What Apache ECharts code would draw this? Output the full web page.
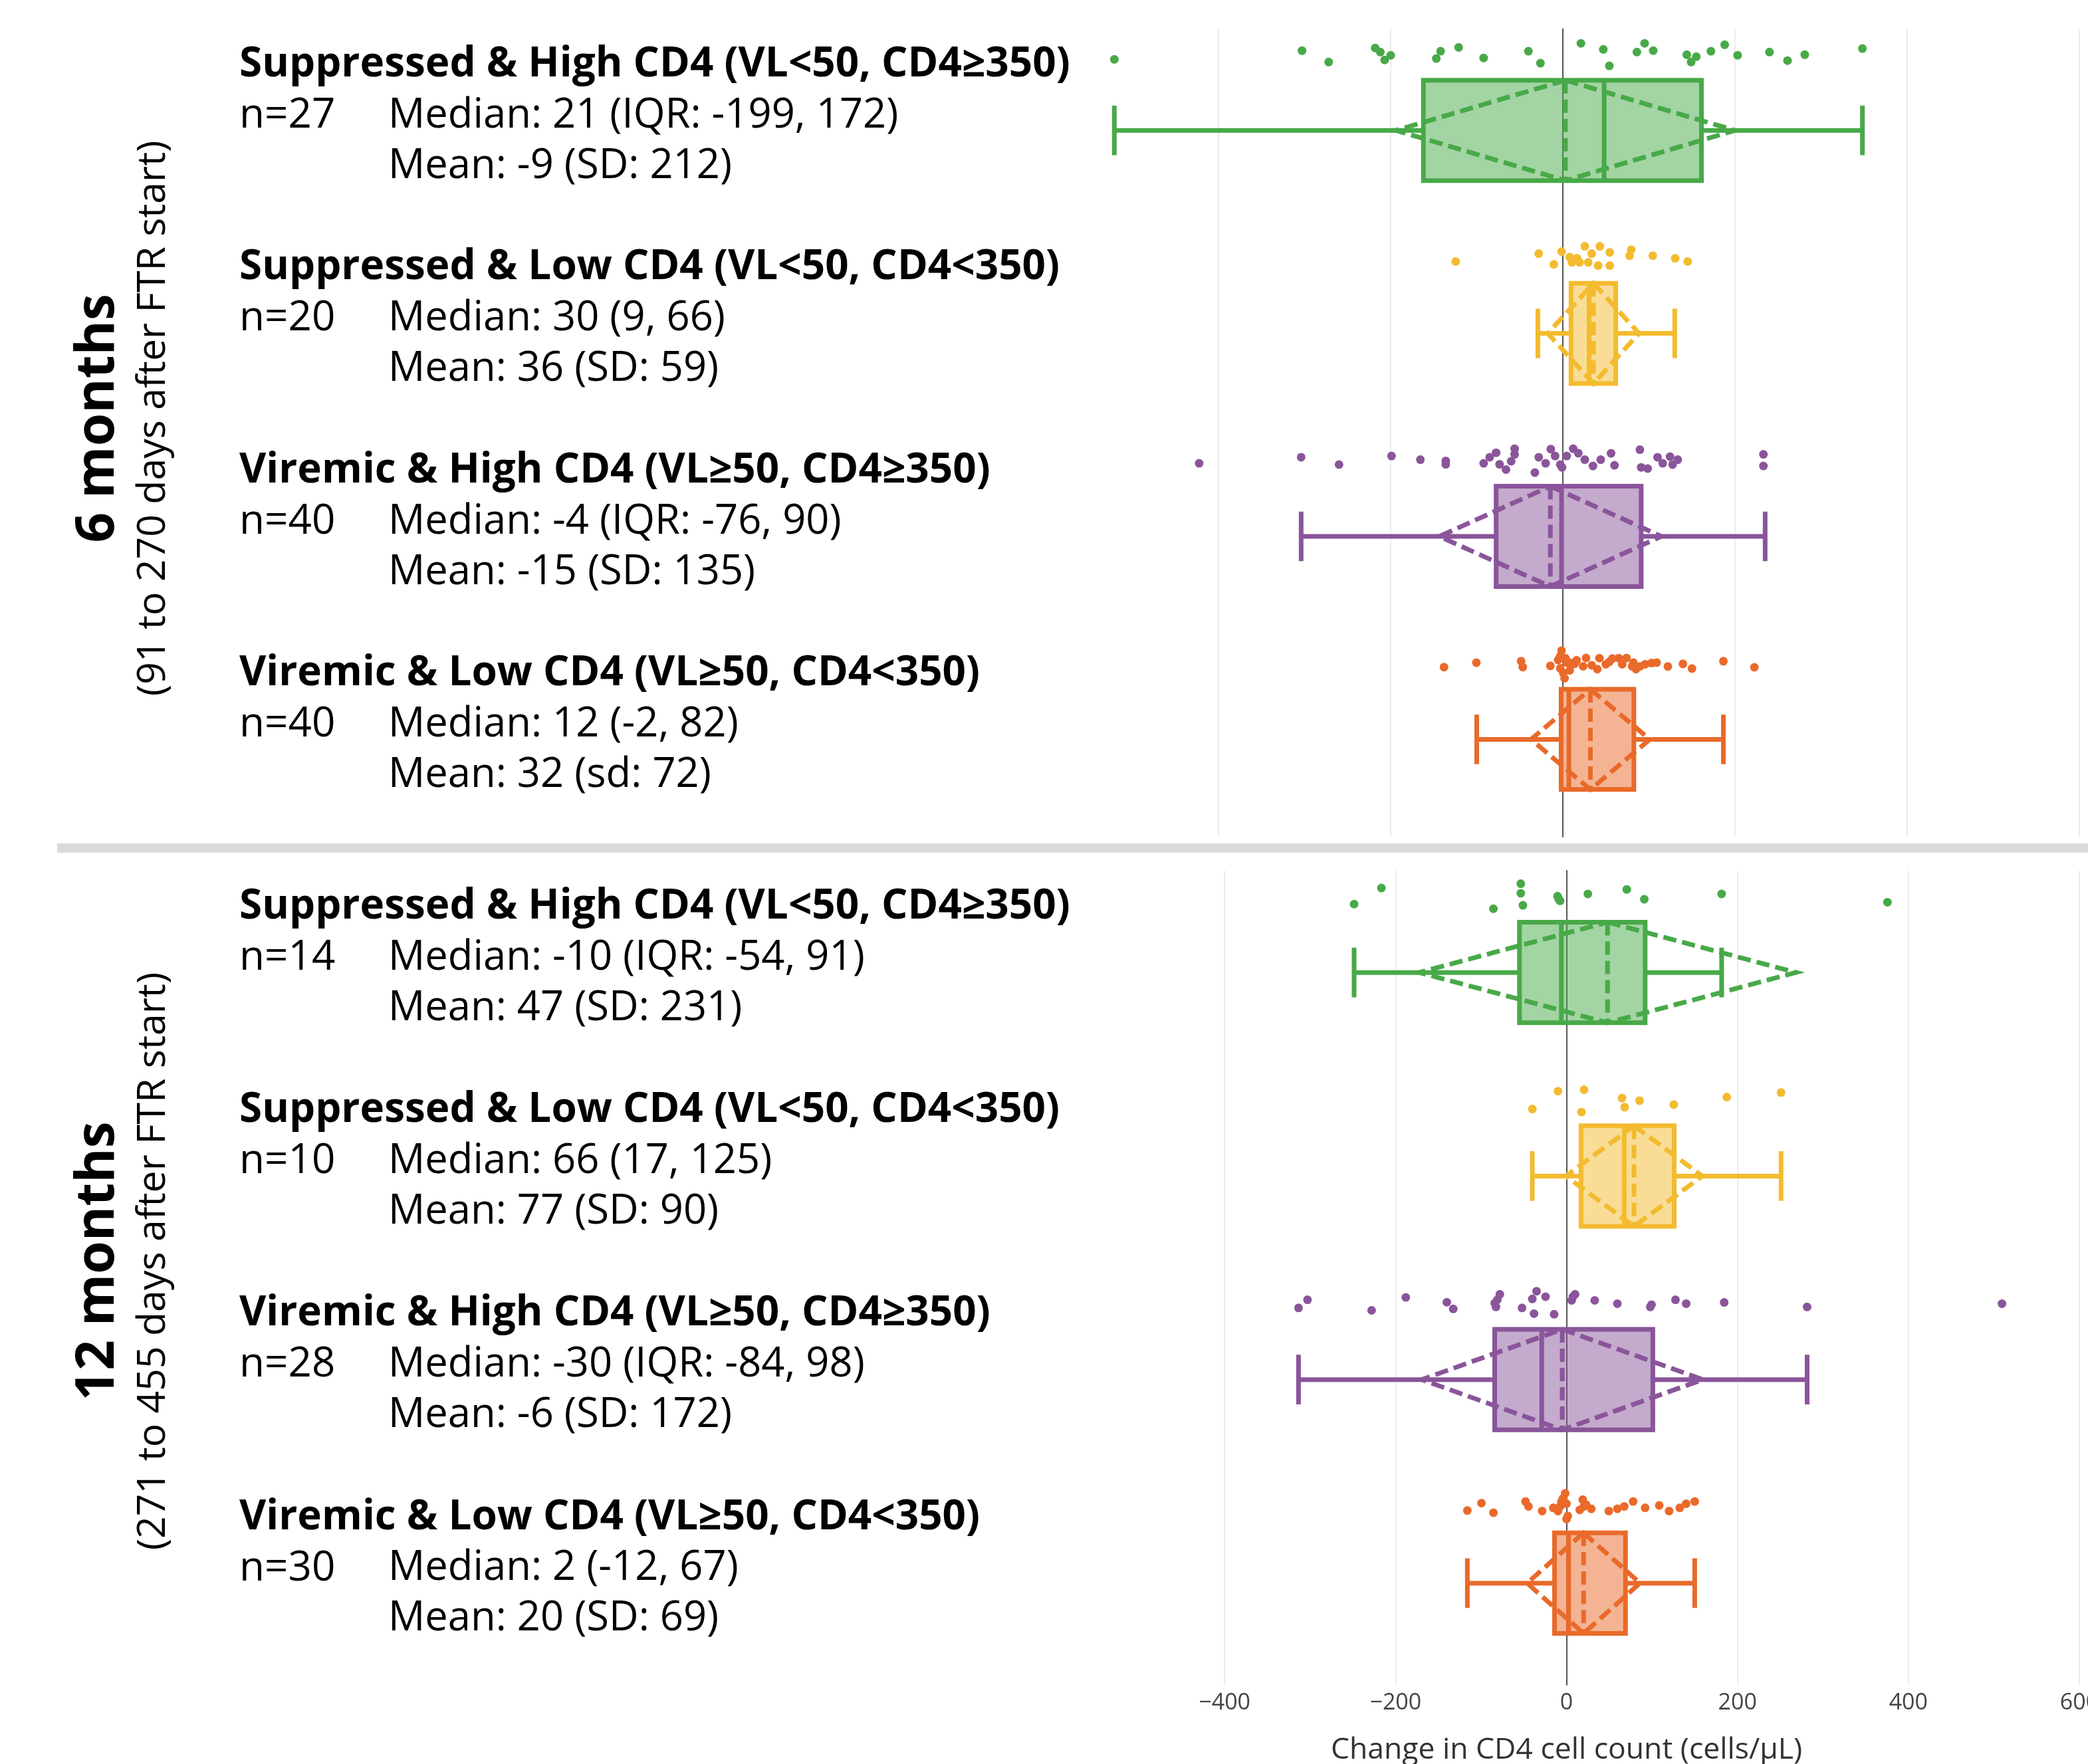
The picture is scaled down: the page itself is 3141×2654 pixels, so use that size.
<!DOCTYPE html>
<html><head><meta charset="utf-8">
<script src="https://cdn.jsdelivr.net/npm/echarts@6/dist/echarts.min.js"></script>
<style>html,body{margin:0;padding:0;background:#fff}#c{width:3141px;height:2654px}</style>
</head><body><div id="c"></div>
<script>
// ---------- text data ----------
const groupNames = [
  'Suppressed & High CD4 (VL<50, CD4\u2265350)',
  'Suppressed & Low CD4 (VL<50, CD4<350)',
  'Viremic & High CD4 (VL\u226550, CD4\u2265350)',
  'Viremic & Low CD4 (VL\u226550, CD4<350)'
];
const nLabels6 = ['n=27', 'n=20', 'n=40', 'n=40'];
const medianText6 = ['Median: 21 (IQR: -199, 172)', 'Median: 30 (9, 66)', 'Median: -4 (IQR: -76, 90)', 'Median: 12 (-2, 82)'];
const meanText6 = ['Mean: -9 (SD: 212)', 'Mean: 36 (SD: 59)', 'Mean: -15 (SD: 135)', 'Mean: 32 (sd: 72)'];
const nLabels12 = ['n=14', 'n=10', 'n=28', 'n=30'];
const medianText12 = ['Median: -10 (IQR: -54, 91)', 'Median: 66 (17, 125)', 'Median: -30 (IQR: -84, 98)', 'Median: 2 (-12, 67)'];
const meanText12 = ['Mean: 47 (SD: 231)', 'Mean: 77 (SD: 90)', 'Mean: -6 (SD: 172)', 'Mean: 20 (SD: 69)'];
const panelTitles = ['6 months', '12 months'];
const panelSubtitles = ['(91 to 270 days after FTR start)', '(271 to 455 days after FTR start)'];
const xAxisName = 'Change in CD4 cell count (cells/\u03bcL)';
const xMin = -600, xMax = 600, xStep = 200;

// ---------- box statistics as drawn: [min, q1, median, q3, max, mean, sd] ----------
const box6 = [
  [-521, -162, 48, 161, 348, 3, 197],
  [-29, 9.5, 30.5, 61.5, 130, 35.5, 53],
  [-304, -77.5, -1.5, 91, 235, -14.5, 129],
  [-100, -2, 7, 82.5, 186.5, 32, 69]
];
const box12 = [
  [-248.5, -55, -6, 92, 181.5, 48, 220.5],
  [-40, 17, 67.5, 126, 251, 79, 80],
  [-313.5, -84, -29, 101, 281.5, -5, 164.5],
  [-116, -14, 2.5, 69, 150, 20, 66]
];

// ---------- individual points (value, vertical jitter in category units) ----------
const pts6_0 = [-521,-303,-272,-218,-212,-207,-200,-147,-142,-121,-92,-40,-26,21,47,54,86,95,105,144,149,155,172,188,203,240,261,281,348];
const jit6_0 = [-0.350,-0.393,-0.337,-0.406,-0.386,-0.347,-0.370,-0.354,-0.390,-0.409,-0.357,-0.390,-0.331,-0.429,-0.399,-0.318,-0.386,-0.429,-0.393,-0.373,-0.337,-0.363,-0.390,-0.422,-0.370,-0.386,-0.344,-0.373,-0.403];
const pts6_1 = [-124.5,-28,-10.5,-1.5,8,10.5,16.5,19.5,25.5,29.5,33.5,41,43,54.5,54.5,77.5,79.5,104.5,130.5,145];
const jit6_1 = [-0.354,-0.393,-0.340,-0.403,-0.376,-0.350,-0.370,-0.350,-0.429,-0.350,-0.393,-0.334,-0.429,-0.399,-0.334,-0.383,-0.412,-0.383,-0.370,-0.354];
const pts6_2 = [-422.5,-304,-260,-199,-165.5,-136,-136,-92,-85,-77.5,-73.5,-66,-56,-56,-32.5,-28,-14,-9,-3,-1,4.5,12,25.5,35,44,56,89.5,91,98.5,116,124.5,127.5,133.5,233,233,-60,-20,18,60,110];
const jit6_2 = [-0.360,-0.390,-0.354,-0.396,-0.378,-0.372,-0.355,-0.360,-0.390,-0.412,-0.355,-0.329,-0.432,-0.404,-0.314,-0.390,-0.430,-0.396,-0.354,-0.340,-0.396,-0.432,-0.378,-0.347,-0.378,-0.409,-0.427,-0.340,-0.334,-0.360,-0.393,-0.354,-0.378,-0.404,-0.347,-0.37,-0.36,-0.41,-0.35,-0.39];
const pts6_3 = [-138,-100.5,-48.5,-46.5,-14.5,-5.5,-1.5,0.5,2,4.5,8,13.5,27,33.5,40,54,57.5,74,82,85,89.5,103,109,122,139.5,150,186.5,222.5,-3,3,16,23.5,50,65,80.5,95.5,-3,8,42.5,69];
const jit6_3 = [-0.356,-0.378,-0.385,-0.356,-0.362,-0.391,-0.437,-0.327,-0.301,-0.378,-0.378,-0.372,-0.401,-0.365,-0.346,-0.382,-0.398,-0.401,-0.378,-0.346,-0.359,-0.376,-0.378,-0.359,-0.372,-0.349,-0.385,-0.355,-0.35,-0.40,-0.39,-0.36,-0.37,-0.40,-0.36,-0.37,-0.41,-0.34,-0.40,-0.37];
const pts12_0 = [-248.5,-216.5,-85.5,-53.5,-53.5,-51,-10.5,-7.5,25,70.5,91,181.5,375.5,-9];
const jit12_0 = [-0.336,-0.415,-0.313,-0.436,-0.389,-0.330,-0.375,-0.352,-0.386,-0.408,-0.360,-0.386,-0.345,-0.36];
const pts12_1 = [-40,-10,17.5,20.5,65,68,85.5,125.5,187.5,251];
const jit12_1 = [-0.329,-0.417,-0.314,-0.424,-0.383,-0.338,-0.370,-0.351,-0.388,-0.410];
const pts12_2 = [-313.5,-303,-228,-188,-140,-132.5,-84,-82.5,-78,-52,-40,-38,-35,-24.5,-14.5,6,10,33,59.5,98,99.5,127.5,140,184.5,281.5,509.5,-81,7.5];
const jit12_2 = [-0.352,-0.392,-0.340,-0.404,-0.380,-0.347,-0.376,-0.357,-0.419,-0.352,-0.396,-0.324,-0.434,-0.407,-0.321,-0.389,-0.419,-0.389,-0.373,-0.357,-0.368,-0.392,-0.373,-0.379,-0.357,-0.373,-0.392,-0.407];
const pts12_3 = [-116,-99.5,-85.5,-48,-44.5,-28.5,-15.5,-10,-6,-4,-1.5,0,1.5,19,20.5,29,49.5,59.5,67.5,78,92,108.5,120,132.5,140,150,-7.5,0,23,15.5];
const jit12_3 = [-0.357,-0.393,-0.346,-0.401,-0.377,-0.354,-0.370,-0.354,-0.401,-0.417,-0.441,-0.315,-0.330,-0.410,-0.377,-0.365,-0.354,-0.365,-0.377,-0.401,-0.370,-0.382,-0.354,-0.370,-0.390,-0.401,-0.377,-0.39,-0.385,-0.36];

const colors = ['#48a948', '#f3bb2f', '#8a559a', '#e96a2a'];
const FONT = '"Open Sans", "Noto Sans", sans-serif';

const pts = [[pts6_0, pts6_1, pts6_2, pts6_3], [pts12_0, pts12_1, pts12_2, pts12_3]];
const jits = [[jit6_0, jit6_1, jit6_2, jit6_3], [jit12_0, jit12_1, jit12_2, jit12_3]];
const boxes = [box6, box12];

function hexA(hex, a) {
  const n = parseInt(hex.slice(1), 16);
  return 'rgba(' + (n >> 16) + ',' + ((n >> 8) & 255) + ',' + (n & 255) + ',' + a + ')';
}

function renderBox(params, api) {
  const i = api.value(0);
  const mn = api.value(1), q1 = api.value(2), md = api.value(3), q3 = api.value(4),
        mx = api.value(5), mean = api.value(6), sd = api.value(7);
  const c = colors[i];
  const yc = api.coord([0, i])[1];
  const band = Math.abs(api.size([0, 1])[1]);
  const hb = 0.247 * band, hc = 0.122 * band;
  const X = v => api.coord([v, i])[0];
  const lw = 7;
  const solid = { stroke: c, lineWidth: lw, fill: null };
  const dashed = { stroke: c, lineWidth: lw, fill: null, lineDash: [20, 9] };
  return {
    type: 'group',
    children: [
      { type: 'rect', shape: { x: X(q1), y: yc - hb, width: X(q3) - X(q1), height: 2 * hb },
        style: { fill: hexA(c, 0.5), stroke: c, lineWidth: lw } },
      { type: 'line', shape: { x1: X(md), y1: yc - hb, x2: X(md), y2: yc + hb }, style: solid },
      { type: 'line', shape: { x1: X(mn), y1: yc, x2: X(q1), y2: yc }, style: solid },
      { type: 'line', shape: { x1: X(q3), y1: yc, x2: X(mx), y2: yc }, style: solid },
      { type: 'line', shape: { x1: X(mn), y1: yc - hc, x2: X(mn), y2: yc + hc }, style: solid },
      { type: 'line', shape: { x1: X(mx), y1: yc - hc, x2: X(mx), y2: yc + hc }, style: solid },
      { type: 'polygon', shape: { points: [[X(mean), yc - hb], [X(mean + sd), yc], [X(mean), yc + hb], [X(mean - sd), yc]] }, style: dashed },
      { type: 'line', shape: { x1: X(mean), y1: yc - hb, x2: X(mean), y2: yc + hb }, style: dashed }
    ]
  };
}

const grids = [
  { left: 1574, width: 1554, top: 43.5, height: 1215.5, outerBoundsMode: 'none', containLabel: false },
  { left: 1585, width: 1543, top: 1310, height: 1225, outerBoundsMode: 'none', containLabel: false }
];
const yRanges = [[-0.5, 3.48], [-0.5, 3.5]];

const series = [];
[0, 1].forEach(p => {
  series.push({
    type: 'custom', xAxisIndex: p, yAxisIndex: p, silent: true, z: 3,
    renderItem: renderBox,
    encode: { x: [1, 2, 3, 4, 5], y: 0 },
    data: boxes[p].map((b, i) => [i].concat(b))
  });
  for (let g = 0; g < 4; g++) {
    series.push({
      type: 'scatter', xAxisIndex: p, yAxisIndex: p, silent: true, z: 4,
      symbolSize: 13,
      itemStyle: { color: colors[g], opacity: 1 },
      data: pts[p][g].map((v, k) => [v, g + jits[p][g][k]])
    });
  }
});

const chart = echarts.init(document.getElementById('c'), null, { renderer: 'canvas' });
chart.setOption({
  animation: false,
  backgroundColor: '#ffffff',
  grid: grids,
  xAxis: [0, 1].map(p => ({
    gridIndex: p, type: 'value', min: xMin, max: xMax, interval: xStep,
    axisLine: { show: false }, axisTick: { show: false },
    splitLine: { show: true, showMinLine: false, lineStyle: { color: '#ececec', width: 2 } },
    axisLabel: p === 0 ? { show: false } : {
      show: true, fontSize: 34, color: '#444', fontFamily: FONT, margin: 10,
      showMinLabel: false, showMaxLabel: true, hideOverlap: false,
      formatter: v => String(v).replace('-', '\u2212')
    },
    name: p === 1 ? xAxisName : '',
    nameLocation: 'middle', nameGap: 76,
    nameTextStyle: { fontSize: 44.5, color: '#333', fontFamily: FONT }
  })),
  yAxis: [0, 1].map(p => ({
    gridIndex: p, type: 'value', min: yRanges[p][0], max: yRanges[p][1], inverse: true,
    axisLine: { show: true, onZero: true, lineStyle: { color: '#555', width: 2 } },
    axisTick: { show: false }, axisLabel: { show: false }, splitLine: { show: false }
  })),
  series: series
});

// ---------- left-hand texts ----------
const graphics = [];
const textSets = [[nLabels6, medianText6, meanText6], [nLabels12, medianText12, meanText12]];
[0, 1].forEach(p => {
  for (let g = 0; g < 4; g++) {
    const yc = chart.convertToPixel({ yAxisIndex: p }, g);
    const y0 = yc - 99;
    graphics.push({ type: 'text', x: 360, y: y0, silent: true,
      style: { text: groupNames[g], fontSize: 62, fontWeight: 'bold', fontFamily: FONT, fill: '#000', align: 'left', verticalAlign: 'middle' } });
    graphics.push({ type: 'text', x: 360, y: y0 + 77, silent: true,
      style: { text: textSets[p][0][g], fontSize: 62, fontFamily: FONT, fill: '#000', align: 'left', verticalAlign: 'middle' } });
    graphics.push({ type: 'text', x: 584, y: y0 + 77, silent: true,
      style: { text: textSets[p][1][g], fontSize: 61.5, fontFamily: FONT, fill: '#000', align: 'left', verticalAlign: 'middle' } });
    graphics.push({ type: 'text', x: 584, y: y0 + 153, silent: true,
      style: { text: textSets[p][2][g], fontSize: 61.5, fontFamily: FONT, fill: '#000', align: 'left', verticalAlign: 'middle' } });
  }
  const mid = (chart.convertToPixel({ yAxisIndex: p }, 1) + chart.convertToPixel({ yAxisIndex: p }, 2)) / 2;
  graphics.push({ type: 'text', x: 148, y: mid - 25, rotation: Math.PI / 2, silent: true,
    style: { text: panelTitles[p], fontSize: 80, fontWeight: 'bold', fontFamily: FONT, fill: '#000', align: 'center', verticalAlign: 'middle' } });
  graphics.push({ type: 'text', x: 231, y: mid - 25, rotation: Math.PI / 2, silent: true,
    style: { text: panelSubtitles[p], fontSize: 59, fontFamily: FONT, fill: '#000', align: 'center', verticalAlign: 'middle' } });
});
graphics.push({ type: 'rect', silent: true, shape: { x: 86, y: 1269, width: 3141 - 86, height: 14 }, style: { fill: '#dadada' } });
chart.setOption({ graphic: graphics });
</script>
</body></html>
